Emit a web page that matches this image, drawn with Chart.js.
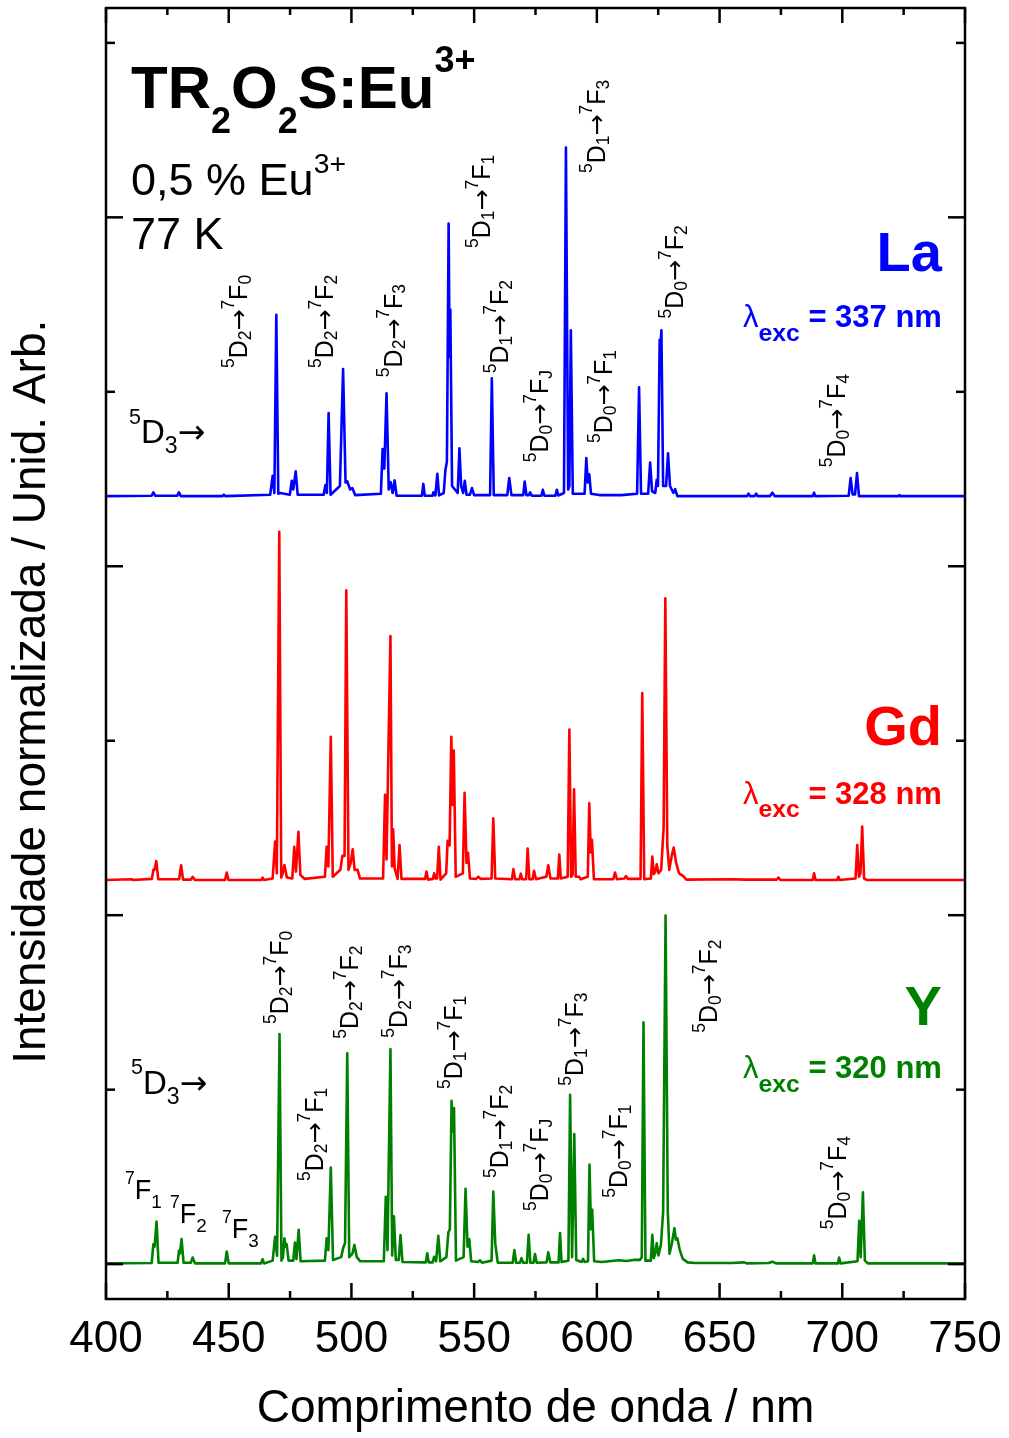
<!DOCTYPE html>
<html><head><meta charset="utf-8">
<script src="https://cdn.jsdelivr.net/npm/chart.js@4.4.1/dist/chart.umd.min.js"></script>
<style>html,body{margin:0;padding:0;background:#fff;}#wrap{width:1009px;height:1438px;}</style>
</head><body><div id="wrap"><canvas id="c" width="1009" height="1438"></canvas></div>
<script>
// ---------------- DATA (wavelength nm, normalized intensity) ----------------
const seriesNames = ['La', 'Gd', 'Y'];
const excitation = ['337', '328', '320'];
const offsets = [2.2, 1.1, 0];
const xTickValues = [400, 450, 500, 550, 600, 650, 700, 750];
const xMinorTicks = [425, 475, 525, 575, 625, 675, 725];
const yMajorTicks = [0, 1, 2, 3];
const yMinorTicks = [0.5, 1.5, 2.5, 3.5];

const laPoints = [[400,0.001],[418.6,0.002],[419.3,0.012],[420.1,0.002],[429.0,0.002],[429.7,0.012],[430.5,0.001],[447.5,0.001],[448.0,0.005],[448.6,0.001],[466.9,0.005],[467.9,0.059],[468.6,0.01],[469.4,0.521],[470.2,0.008],[471.0,0.01],[474.9,0.005],[475.7,0.045],[476.3,0.02],[477.3,0.072],[478.1,0.005],[488.7,0.005],[489.4,0.033],[490.0,0.01],[490.7,0.239],[491.5,0.005],[495.3,0.03],[496.6,0.365],[497.6,0.04],[498.3,0.043],[499.5,0.02],[500.4,0.024],[501.5,0.004],[512.0,0.008],[512.7,0.136],[513.4,0.08],[514.3,0.296],[515.2,0.02],[516.0,0.041],[516.8,0.01],[517.6,0.046],[518.4,0.002],[528.7,0.002],[529.3,0.036],[529.9,0.002],[533.0,0.002],[533.4,0.012],[534.2,0.003],[535.0,0.065],[535.7,0.003],[537.6,0.01],[538.3,0.076],[538.9,0.1],[539.6,0.782],[540.0,0.4],[540.3,0.536],[541.0,0.03],[543.3,0.01],[544.0,0.138],[544.7,0.03],[545.5,0.01],[546.2,0.045],[546.9,0.005],[548.3,0.005],[549.1,0.024],[550.0,0.004],[556.5,0.004],[557.2,0.339],[558.0,0.004],[563.5,0.004],[564.3,0.053],[565.2,0.004],[570.0,0.004],[570.6,0.043],[571.3,0.004],[572.3,0.004],[572.8,0.012],[573.5,0.002],[577.4,0.002],[578.0,0.019],[578.6,0.002],[583.1,0.002],[583.7,0.019],[584.3,0.003],[586.6,0.01],[587.4,1.0],[588.3,0.02],[588.8,0.03],[589.4,0.476],[590.2,0.008],[595.0,0.008],[595.7,0.11],[596.3,0.04],[596.9,0.064],[597.6,0.008],[601,0.004],[610,0.004],[616.4,0.008],[617.2,0.313],[618.0,0.008],[620.9,0.008],[621.7,0.097],[622.5,0.015],[623.8,0.01],[624.4,0.048],[624.9,0.03],[625.6,0.449],[626.0,0.44],[626.3,0.476],[627.0,0.03],[628.2,0.03],[629.0,0.124],[629.8,0.03],[631.2,0.01],[631.9,0.021],[632.8,0.001],[661.2,0.001],[661.8,0.008],[662.4,0.001],[664.3,0.001],[664.9,0.008],[665.5,0.001],[670.5,0.001],[671.5,0.011],[672.5,0.001],[688.0,0.001],[688.5,0.011],[689.0,0.001],[702.6,0.002],[703.4,0.053],[704.2,0.006],[705.2,0.006],[706.0,0.067],[706.8,0.001],[722.8,0.001],[723.3,0.004],[723.8,0.001],[750,0.001]];

const gdPoints = [[400,0.001],[410.5,0.003],[411,0.001],[418.7,0.004],[419.3,0.03],[419.8,0.03],[420.5,0.055],[421.3,0.003],[429.8,0.003],[430.6,0.043],[431.4,0.002],[434.6,0.002],[435.3,0.01],[436.2,0.001],[448.5,0.001],[449.2,0.022],[449.9,0.001],[463.3,0.001],[463.8,0.008],[464.3,0.001],[467.9,0.005],[468.9,0.111],[469.6,0.02],[470.6,0.999],[471.4,0.008],[472.0,0.02],[472.7,0.044],[473.7,0.008],[475.9,0.005],[476.7,0.096],[477.4,0.025],[478.4,0.139],[479.2,0.015],[481,0.004],[489.2,0.01],[489.9,0.096],[490.6,0.04],[491.6,0.411],[492.4,0.01],[495.5,0.03],[496.3,0.07],[497.2,0.07],[497.9,0.831],[498.8,0.03],[499.7,0.05],[500.5,0.089],[501.3,0.03],[502.5,0.03],[503.5,0.005],[512.9,0.005],[513.7,0.245],[514.3,0.06],[515.9,0.7],[516.5,0.04],[517.0,0.146],[517.6,0.035],[518.8,0.004],[519.6,0.101],[520.4,0.004],[530.0,0.004],[530.6,0.025],[531.2,0.002],[533.2,0.004],[533.7,0.02],[534.3,0.005],[534.9,0.005],[535.6,0.096],[536.3,0.002],[538.6,0.02],[539.2,0.113],[540.0,0.1],[540.7,0.411],[541.2,0.216],[541.7,0.372],[542.5,0.01],[545.4,0.02],[546.1,0.251],[546.9,0.05],[547.5,0.079],[548.3,0.005],[550.8,0.004],[551.7,0.01],[552.6,0.004],[557.1,0.005],[557.8,0.178],[558.6,0.005],[565.4,0.003],[566.0,0.032],[566.7,0.003],[568.5,0.003],[569.0,0.019],[569.6,0.003],[571.2,0.003],[571.8,0.091],[572.5,0.003],[573.8,0.003],[574.4,0.027],[575.2,0.003],[579.4,0.01],[580.2,0.043],[581.1,0.005],[584.1,0.005],[584.7,0.074],[585.3,0.005],[588.1,0.01],[588.8,0.432],[589.5,0.01],[590.1,0.015],[590.7,0.261],[591.4,0.01],[592.8,0.01],[593.4,0.003],[596.3,0.01],[596.9,0.221],[597.5,0.08],[598.0,0.116],[598.8,0.003],[606.7,0.003],[607.4,0.022],[608.2,0.003],[611.2,0.005],[611.9,0.012],[612.6,0.004],[617.8,0.004],[618.5,0.537],[619.3,0.003],[622.0,0.005],[622.6,0.068],[623.2,0.018],[623.8,0.025],[624.4,0.046],[625.1,0.02],[626.2,0.03],[627.2,0.15],[627.9,0.808],[628.7,0.1],[629.5,0.03],[630.5,0.07],[631.3,0.094],[632.3,0.05],[633.5,0.02],[635.2,0.012],[636.5,0.002],[655,0.003],[660,0.002],[673.3,0.002],[674.0,0.008],[674.8,0.001],[688.0,0.001],[688.5,0.02],[689.1,0.001],[697.9,0.001],[698.4,0.01],[698.9,0.001],[705.4,0.005],[706.1,0.101],[706.8,0.01],[707.4,0.02],[708.1,0.154],[708.9,0.005],[710,0.001],[750,0.001]];

const yPoints = [[400,0.002],[418.6,0.003],[419.3,0.057],[419.8,0.05],[420.6,0.122],[421.4,0.004],[429.2,0.004],[429.7,0.038],[430.1,0.03],[430.8,0.072],[431.6,0.004],[434.6,0.004],[435.3,0.019],[436.3,0.002],[448.5,0.002],[449.2,0.036],[450.0,0.002],[463.2,0.002],[463.8,0.014],[464.4,0.002],[467.9,0.01],[468.9,0.078],[469.7,0.024],[470.7,0.659],[471.5,0.01],[472.1,0.02],[472.7,0.074],[473.2,0.05],[473.6,0.057],[474.4,0.01],[476.3,0.01],[477.0,0.062],[477.6,0.014],[478.5,0.098],[479.3,0.008],[489.2,0.01],[489.9,0.074],[490.6,0.04],[491.6,0.277],[492.5,0.012],[495.8,0.02],[496.7,0.048],[497.4,0.06],[498.3,0.604],[499.1,0.02],[500.4,0.03],[501.2,0.055],[502.2,0.02],[503.6,0.008],[513.2,0.008],[514.0,0.193],[514.7,0.04],[515.9,0.616],[516.6,0.025],[517.3,0.137],[518.1,0.012],[519.3,0.012],[520.0,0.083],[520.8,0.006],[530.3,0.005],[530.9,0.031],[531.5,0.005],[533.1,0.005],[533.7,0.021],[534.5,0.008],[535.4,0.081],[536.2,0.008],[538.7,0.02],[539.5,0.091],[540.1,0.1],[540.8,0.468],[541.3,0.38],[541.8,0.447],[542.6,0.01],[545.7,0.02],[546.5,0.216],[547.3,0.05],[548.0,0.072],[548.8,0.008],[551.6,0.006],[552.4,0.011],[553.2,0.004],[557.1,0.01],[557.8,0.208],[558.6,0.06],[559.6,0.004],[565.7,0.004],[566.4,0.04],[567.1,0.004],[568.7,0.004],[569.3,0.017],[570.0,0.004],[571.5,0.004],[572.2,0.084],[572.9,0.004],[574.2,0.004],[574.8,0.029],[575.5,0.004],[579.5,0.005],[580.2,0.034],[581.0,0.005],[584.4,0.005],[585.0,0.089],[585.6,0.006],[588.4,0.01],[589.1,0.485],[589.9,0.02],[590.8,0.373],[591.6,0.012],[593.8,0.006],[594.4,0.015],[595.0,0.006],[596.4,0.008],[597.0,0.285],[597.6,0.1],[598.1,0.156],[598.9,0.008],[602,0.006],[606,0.009],[609,0.011],[612,0.009],[615,0.012],[617.5,0.012],[618.3,0.02],[619.0,0.693],[619.8,0.01],[622.0,0.01],[622.6,0.084],[623.2,0.017],[623.8,0.03],[624.4,0.06],[625.1,0.025],[626.1,0.055],[627.0,0.15],[628.0,0.999],[628.9,0.15],[629.6,0.03],[630.6,0.06],[631.6,0.103],[632.2,0.07],[632.8,0.074],[633.8,0.04],[635.0,0.015],[637,0.005],[640,0.003],[655,0.003],[660,0.005],[661,0.002],[670,0.003],[671.5,0.007],[673,0.002],[688.0,0.002],[688.5,0.025],[689.1,0.002],[698.2,0.002],[698.7,0.019],[699.3,0.002],[706.2,0.008],[706.9,0.124],[707.5,0.02],[708.4,0.206],[709.2,0.01],[710.5,0.002],[750,0.002]];

// ---------------- STYLE / LAYOUT ----------------
const FONT = "'Liberation Sans', Arial, Helvetica, sans-serif";
const ARROW_FONT = "'DejaVu Sans', 'Liberation Sans', sans-serif";
const colors = ['#0000ff', '#ff0000', '#008000'];
const allPoints = [laPoints, gdPoints, yPoints];

// transition labels: [D sub, F sub, anchor wavelength, anchor y]
const rotLabels = [
  ['2','0',457.4,2.568],['2','2',492.5,2.568],['2','3',520.5,2.542],['1','1',556.5,2.912],
  ['1','3',603.3,3.127],['1','2',563.8,2.553],['0','J',580.1,2.298],['0','1',606.2,2.353],
  ['0','2',635.1,2.710],['0','4',701.1,2.284],
  ['2','0',474.2,0.688],['2','1',488.4,0.238],['2','2',502.7,0.646],['2','3',522.6,0.649],
  ['1','1',545.1,0.502],['1','2',563.8,0.247],['0','J',580.1,0.152],['1','3',594.4,0.511],
  ['0','1',612.3,0.190],['0','2',649.0,0.663],['0','4',701.5,0.100]
];

function drawRich(ctx, segs, x, y, o) {
  let w = 0;
  const parts = segs.map(s => {
    const [t, k, wt, fam] = s;
    const size = k === 'n' ? o.size : (k === 'u' ? o.size * o.supScale : o.size * o.subScale);
    const weight = wt || o.weight;
    ctx.font = weight + ' ' + size + 'px ' + (fam || FONT);
    const pw = ctx.measureText(t).width;
    const dy = k === 'u' ? -o.size * o.supRise : (k === 'd' ? o.size * o.subDrop : 0);
    const p = {t, font: ctx.font, dy, x: w};
    w += pw;
    return p;
  });
  const x0 = o.align === 'right' ? x - w : x;
  ctx.fillStyle = o.color;
  ctx.textBaseline = 'alphabetic';
  ctx.textAlign = 'left';
  parts.forEach(p => { ctx.font = p.font; ctx.fillText(p.t, x0 + p.x, y + p.dy); });
}

function transSegs(a, b) {
  return [['5','u'],['D','n'],[a,'d'],['\u2192','n',null,ARROW_FONT],['7','u'],['F','n'],[b,'d']];
}

const decor = {
  id: 'decor',
  afterDraw(chart) {
    const {ctx, chartArea: a, scales: {x, y}} = chart;
    const X = v => x.getPixelForValue(v), Y = v => y.getPixelForValue(v);
    ctx.save();
    ctx.strokeStyle = '#000';
    ctx.lineWidth = 2.5;
    ctx.lineCap = 'butt';
    const seg = (x1, y1, x2, y2) => { ctx.beginPath(); ctx.moveTo(x1, y1); ctx.lineTo(x2, y2); ctx.stroke(); };
    xTickValues.forEach(v => { seg(X(v), a.bottom, X(v), a.bottom - 16); seg(X(v), a.top, X(v), a.top + 15); });
    xMinorTicks.forEach(v => { seg(X(v), a.bottom, X(v), a.bottom - 8); seg(X(v), a.top, X(v), a.top + 7); });
    yMajorTicks.forEach(v => { seg(a.left, Y(v), a.left + 17, Y(v)); seg(a.right, Y(v), a.right - 17, Y(v)); });
    yMinorTicks.forEach(v => { seg(a.left, Y(v), a.left + 9, Y(v)); seg(a.right, Y(v), a.right - 9, Y(v)); });
    ctx.strokeRect(a.left, a.top, a.right - a.left, a.bottom - a.top);

    // y axis title
    ctx.save();
    ctx.translate(a.left - 61, Y(0.574));
    ctx.rotate(-Math.PI / 2);
    ctx.font = '46px ' + FONT;
    ctx.fillStyle = '#000';
    ctx.textAlign = 'left';
    ctx.textBaseline = 'alphabetic';
    ctx.fillText('Intensidade normalizada / Unid. Arb.', 0, 0);
    ctx.restore();

    // header texts
    drawRich(ctx, [['TR','n'],['2','d'],['O','n'],['2','d'],['S:Eu','n'],['3+','u']], X(410.2), Y(3.313),
      {size: 60, weight: 'bold', color: '#000', supScale: 0.6, supRise: 0.6, subScale: 0.6, subDrop: 0.42});
    drawRich(ctx, [['0,5 % Eu','n'],['3+','u']], X(410.2), Y(3.064),
      {size: 45, weight: 'normal', color: '#000', supScale: 0.63, supRise: 0.5, subScale: 0.65, subDrop: 0.3});
    drawRich(ctx, [['77 K','n']], X(410.2), Y(2.909),
      {size: 45, weight: 'normal', color: '#000', supScale: 0.65, supRise: 0.5, subScale: 0.65, subDrop: 0.3});

    // panel names and excitation
    const nameY = [2.846, 1.489, 0.686], excY = [2.685, 1.32, 0.534];
    seriesNames.forEach((n, i) => {
      drawRich(ctx, [[n,'n']], X(740.6), Y(nameY[i]),
        {size: 56, weight: 'bold', color: colors[i], align: 'right', supScale: 0.6, supRise: 0.5, subScale: 0.6, subDrop: 0.3});
      drawRich(ctx, [['\u03bb','n','normal'],['exc','d'],[' = ' + excitation[i] + ' nm','n']], X(740.6), Y(excY[i]),
        {size: 31, weight: 'bold', color: colors[i], align: 'right', supScale: 0.75, supRise: 0.5, subScale: 0.8, subDrop: 0.45});
    });

    // 5D3 -> labels
    const smallO = {size: 33, weight: 'normal', color: '#000', supScale: 0.65, supRise: 0.6, subScale: 0.7, subDrop: 0.3};
    const d3 = [['5','u'],['D','n'],['3','d'],['\u2192','n',null,ARROW_FONT]];
    drawRich(ctx, d3, X(409.4), Y(2.352), smallO);
    drawRich(ctx, d3, X(410.2), Y(0.488), smallO);
    const fO = {size: 27, weight: 'normal', color: '#000', supScale: 0.65, supRise: 0.55, subScale: 0.7, subDrop: 0.32};
    drawRich(ctx, [['7','u'],['F','n'],['1','d']], X(407.7), Y(0.187), fO);
    drawRich(ctx, [['7','u'],['F','n'],['2','d']], X(426.1), Y(0.118), fO);
    drawRich(ctx, [['7','u'],['F','n'],['3','d']], X(447.3), Y(0.075), fO);

    // rotated transition labels
    const rO = {size: 25, weight: 'normal', color: '#000', supScale: 0.7, supRise: 0.5, subScale: 0.7, subDrop: 0.15};
    rotLabels.forEach(([d, f, wl, v]) => {
      ctx.save();
      ctx.translate(X(wl), Y(v));
      ctx.rotate(-Math.PI / 2);
      drawRich(ctx, transSegs(d, f), 0, 0, rO);
      ctx.restore();
    });
    ctx.restore();
  }
};

Chart.defaults.font.family = FONT;

const datasets = allPoints.map((pts, i) => ({
  label: seriesNames[i],
  data: pts.map(([w, v]) => ({x: w, y: v + offsets[i]})),
  borderColor: colors[i],
  borderWidth: 2.6,
  borderJoinStyle: 'round',
  pointRadius: 0,
  tension: 0,
  fill: false
}));

new Chart(document.getElementById('c'), {
  type: 'line',
  data: {datasets},
  options: {
    responsive: false,
    animation: false,
    events: [],
    layout: {padding: {left: 106, right: 44, top: 8, bottom: 0}},
    plugins: {legend: {display: false}, tooltip: {enabled: false}},
    scales: {
      x: {
        type: 'linear', min: 400, max: 750,
        afterBuildTicks: s => { s.ticks = xTickValues.map(v => ({value: v})); },
        afterFit: s => { s.paddingLeft = 0; s.paddingRight = 0; },
        ticks: {font: {size: 44, family: FONT}, color: '#000', padding: 14, maxRotation: 0, autoSkip: false},
        grid: {display: false, drawTicks: false},
        border: {display: false},
        title: {display: true, text: 'Comprimento de onda / nm', font: {size: 46, family: FONT}, color: '#000', padding: {top: 2, bottom: 1}}
      },
      y: {type: 'linear', min: -0.1, max: 3.6, display: false}
    }
  },
  plugins: [decor]
});
</script></body></html>
